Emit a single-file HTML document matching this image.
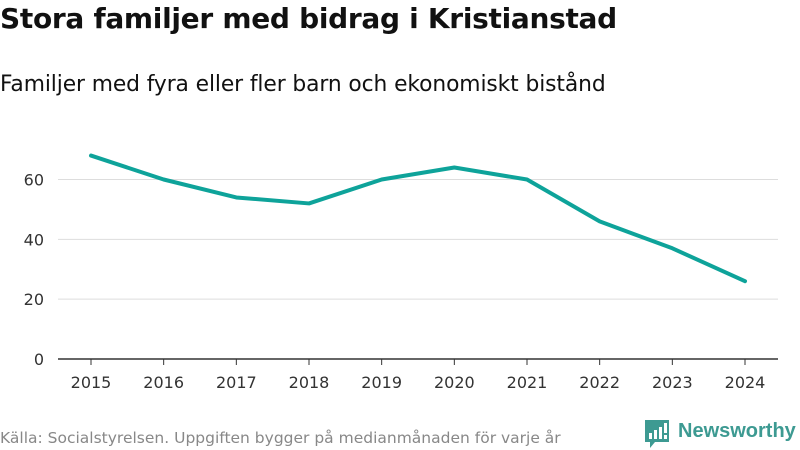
<!DOCTYPE html>
<html><head><meta charset="utf-8"><style>
body{margin:0;width:800px;height:450px;background:#fff;font-family:"DejaVu Sans","Liberation Sans",sans-serif;color:#111;overflow:hidden;position:relative}
.t{position:absolute;white-space:nowrap}
</style></head><body>
<div class="t" style="left:0;top:2px;font-size:28px;font-weight:bold;letter-spacing:-0.3px">Stora familjer med bidrag i Kristianstad</div>
<div class="t" style="left:0;top:72px;font-size:21.8px;letter-spacing:-0.1px">Familjer med fyra eller fler barn och ekonomiskt bistånd</div>
<svg id="c" width="800" height="450" style="position:absolute;left:0;top:0"></svg>
<div class="t" style="left:0;top:429px;font-size:15.5px;color:#888">Källa: Socialstyrelsen. Uppgiften bygger på medianmånaden för varje år</div>
<div class="t" style="left:645px;top:420px;height:30px;width:155px">
<svg width="26" height="30" style="position:absolute;left:0;top:0"><path d="M0 0H24V22H10L5 28V22H0Z" fill="#3d9a92"/><rect x="4" y="13" width="3" height="6" fill="#fff"/><rect x="9" y="10" width="3" height="9" fill="#fff"/><rect x="14" y="7" width="3" height="12" fill="#fff"/><rect x="19" y="3" width="3" height="10" fill="#fff"/><rect x="19" y="15" width="3" height="4" fill="#fff"/></svg>
<span style="position:absolute;left:33px;top:0px;font-family:'Liberation Sans',sans-serif;font-size:20px;color:#3d9a92;font-weight:bold">Newsworthy</span></div>
<script>
const years=["2015","2016","2017","2018","2019","2020","2021","2022","2023","2024"];
const values=[68,60,54,52,60,64,60,46,37,26];
const yTicks=[0,20,40,60];
const svg=document.getElementById('c'),NS='http://www.w3.org/2000/svg';
const x=i=>91+i*(745-91)/(years.length-1);
const y=v=>359-v*179.5/60;
function mk(t,a,txt){const e=document.createElementNS(NS,t);for(const k in a)e.setAttribute(k,a[k]);if(txt!=null)e.textContent=txt;svg.appendChild(e);return e;}
yTicks.forEach(v=>{
 if(v>0){const g=mk('line',{x1:58,x2:778,y1:y(v),y2:y(v),stroke:'#ddd','stroke-width':1});
 
 }
 const t=mk('text',{x:44,y:y(v)+6,'text-anchor':'end','font-size':16,fill:'#333','font-family':'DejaVu Sans, sans-serif'},v);
 
 
});
const ax=mk('line',{x1:58,x2:778,y1:359,y2:359,stroke:'#333','stroke-width':1.5});


years.forEach((yr,i)=>{
 const tk=mk('line',{x1:x(i),x2:x(i),y1:359,y2:365,stroke:'#333'});
 
 
 const t=mk('text',{x:x(i),y:388,'text-anchor':'middle','font-size':16,fill:'#333','font-family':'DejaVu Sans, sans-serif'},yr);
 
 
});
const p=mk('polyline',{points:values.map((v,i)=>x(i)+','+y(v)).join(' '),fill:'none',stroke:'#0ea39a','stroke-width':4,'stroke-linejoin':'round','stroke-linecap':'round'});


</script>
</body></html>
